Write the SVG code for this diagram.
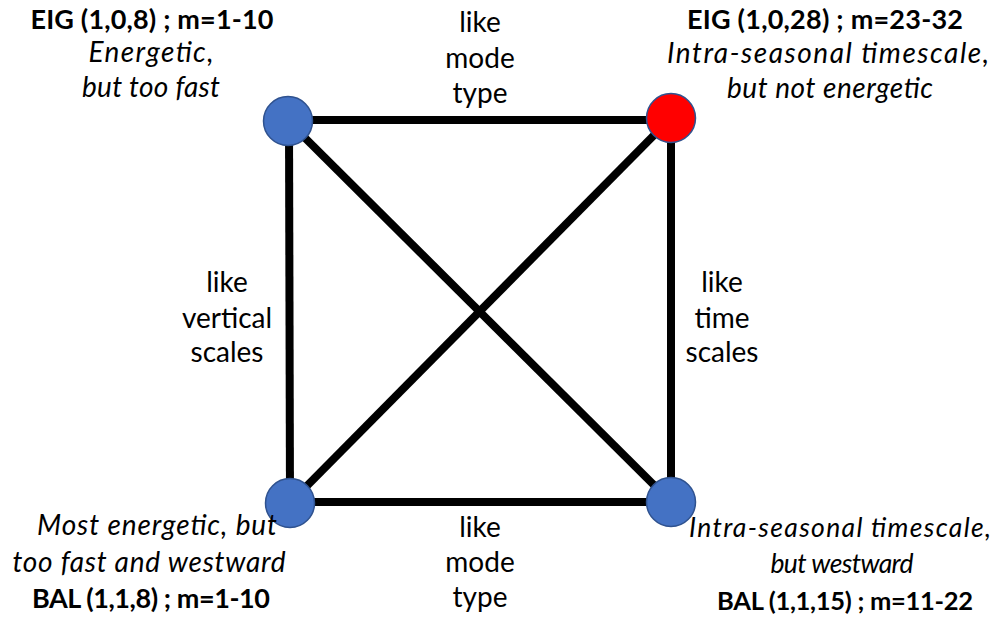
<svg xmlns="http://www.w3.org/2000/svg" width="999" height="619" viewBox="0 0 999 619">
<style>
text{font-family:Lato,"Open Sans","Liberation Sans",sans-serif;font-size:28px;fill:#000;text-anchor:middle}
.b{font-weight:bold;font-size:27px}
.i{font-style:italic}
.s{font-size:26.5px}
.b.s{font-size:25.5px}
.edge{stroke:#000;stroke-width:8;fill:none}
.blue{fill:#4472C4;stroke:#2F528F;stroke-width:1.5}
.red{fill:#FF0000;stroke:#2F528F;stroke-width:1.5}
</style>
<rect width="999" height="619" fill="#fff"/>
<g id="connectors">
<line class="edge" x1="288" y1="120" x2="671" y2="120"/>
<line class="edge" x1="289" y1="121" x2="290" y2="503"/>
<line class="edge" x1="671" y1="118" x2="671" y2="502"/>
<line class="edge" x1="290" y1="502" x2="671" y2="502"/>
<line class="edge" x1="288" y1="121" x2="671" y2="502"/>
<line class="edge" x1="671" y1="118" x2="290" y2="503"/>
</g>
<g id="edge-labels">
<text x="480" y="32">like</text>
<text x="480" y="68">mode</text>
<text x="480" y="103">type</text>
<text x="227" y="292">like</text>
<text x="227" y="328">vertical</text>
<text x="227" y="362">scales</text>
<text x="722" y="292">like</text>
<text x="722" y="328">time</text>
<text x="722" y="362">scales</text>
<text x="480" y="537">like</text>
<text x="480" y="572">mode</text>
<text x="480" y="607">type</text>
</g>
<g id="node-eig-1-0-8">
<circle class="blue" cx="288" cy="121" r="24.5"/>
<text class="b" x="152" y="29" textLength="243">EIG (1,0,8) ; m=1-10</text>
<text class="i" x="151" y="62" textLength="125">Energetic,</text>
<text class="i" x="151" y="97" textLength="138">but too fast</text>
</g>
<g id="node-eig-1-0-28">
<circle class="red" cx="671" cy="118" r="24.5"/>
<text class="b" x="825" y="29" textLength="276">EIG (1,0,28) ; m=23-32</text>
<text class="i" x="828" y="63" textLength="322">Intra-seasonal timescale,</text>
<text class="i" x="830" y="98" textLength="206">but not energetic</text>
</g>
<g id="node-bal-1-1-8">
<circle class="blue" cx="290" cy="503" r="24.5"/>
<text class="i" x="157" y="535" textLength="240">Most energetic, but</text>
<text class="i" x="149" y="572" textLength="273">too fast and westward</text>
<text class="b" x="151" y="608" textLength="238">BAL (1,1,8) ; m=1-10</text>
</g>
<g id="node-bal-1-1-15">
<circle class="blue" cx="671" cy="502" r="24.5"/>
<text class="i s" x="840" y="537" textLength="302">Intra-seasonal timescale,</text>
<text class="i s" x="842" y="573" textLength="143">but westward</text>
<text class="b s" x="845" y="610" textLength="256">BAL (1,1,15) ; m=11-22</text>
</g>
</svg>
